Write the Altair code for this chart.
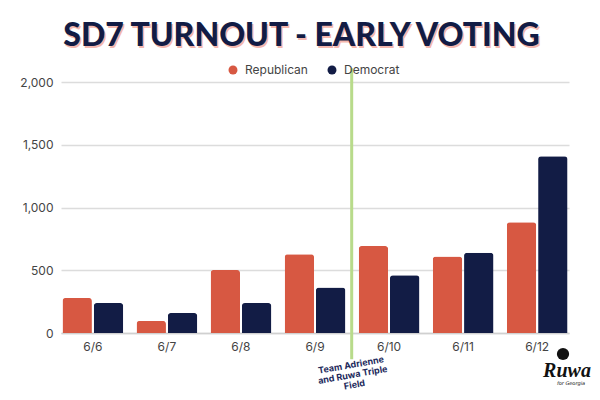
import altair as alt
import pandas as pd

dates = ["6/6", "6/7", "6/8", "6/9", "6/10", "6/11", "6/12"]
parties = ["Republican", "Democrat"]
republican = [279, 96, 502, 627, 693, 609, 882]
democrat = [239, 159, 239, 362, 460, 640, 1408]
y_ticks = [0, 500, 1000, 1500, 2000]
title_text = "SD7 TURNOUT - EARLY VOTING"
note_lines = ["Team Adrienne", "and Ruwa Triple", "Field"]
note_date = "6/10"

rows = []
for d, r, m in zip(dates, republican, democrat):
    rows.append({"date": d, "party": "Republican", "value": r})
    rows.append({"date": d, "party": "Democrat", "value": m})
df = pd.DataFrame(rows)

FONT = "Inter"
NAVY = "#121c45"
RED = "#d75842"

xenc = alt.X(
    "date:N", sort=dates,
    scale=alt.Scale(paddingInner=0.18, paddingOuter=0.02),
    axis=alt.Axis(title=None, labelAngle=0, labelFont=FONT, labelFontSize=12,
                  labelColor="#444", labelPadding=8, ticks=False,
                  domainColor="#d0d0d0", domainWidth=1.5),
)
yscale = alt.Scale(domain=[0, 2000], nice=False)

bars = alt.Chart(df).mark_bar(cornerRadiusTopLeft=3, cornerRadiusTopRight=3).encode(
    x=xenc,
    xOffset=alt.XOffset("party:N", sort=parties, scale=alt.Scale(paddingInner=0.06)),
    y=alt.Y("value:Q", scale=yscale,
            axis=alt.Axis(title=None, values=y_ticks, format=",.0f", labelPadding=8,
                          ticks=False, domain=False, gridColor="#dcdcdc", gridWidth=1.5,
                          labelFont=FONT, labelFontSize=12, labelColor="#444")),
    color=alt.Color("party:N", sort=parties,
                    scale=alt.Scale(domain=parties, range=[RED, NAVY]),
                    legend=alt.Legend(orient="none", legendX=166, legendY=-18,
                                      direction="horizontal", title=None,
                                      symbolType="circle", symbolSize=80,
                                      labelFont=FONT, labelFontSize=12, labelColor="#444",
                                      columnPadding=18, labelOffset=6, padding=0)),
)

rule = alt.Chart(pd.DataFrame({"date": [note_date]})).mark_rule(
    color="#b8db8b", strokeWidth=3, xOffset=-7
).encode(
    x=alt.X("date:N", sort=dates, bandPosition=0),
    y=alt.datum(2110),
    y2=alt.datum(-210),
)

one = pd.DataFrame({"a": [0]})
note = alt.Chart(one).mark_text(
    text=note_lines, angle=350, fontSize=9, fontWeight="bold", font=FONT,
    color="#1d2a5c", lineHeight=10, align="center", baseline="middle"
).encode(x=alt.value(290), y=alt.value(283))

title_shadow = alt.Chart(one).mark_text(
    text=title_text, font="Lato", fontWeight=900, fontSize=32, color="#f4b7ae",
    align="center", baseline="alphabetic"
).encode(x=alt.value(242), y=alt.value(-34))
title_main = alt.Chart(one).mark_text(
    text=title_text, font="Lato", fontWeight=900, fontSize=32, color=NAVY,
    align="center", baseline="alphabetic"
).encode(x=alt.value(240.5), y=alt.value(-36))

peach = alt.Chart(one).mark_point(filled=True, shape="circle", size=150, color="#111", opacity=1).encode(
    x=alt.value(502), y=alt.value(272))
logo = alt.Chart(one).mark_text(
    text="Ruwa", font="Liberation Serif", fontWeight="bold", fontStyle="italic",
    fontSize=20, color="#111", align="center", baseline="middle"
).encode(x=alt.value(506), y=alt.value(289))
logo_sub = alt.Chart(one).mark_text(
    text="for Georgia", font="DejaVu Sans", fontSize=5, fontStyle="italic",
    color="#111", align="center", baseline="middle"
).encode(x=alt.value(510), y=alt.value(301))

chart = alt.layer(bars, rule, note, title_shadow, title_main, peach, logo, logo_sub).properties(
    width=508, height=251,
    autosize="none",
    padding={"left": 53, "top": 74, "right": 23, "bottom": 59},
    background="white",
).configure_view(stroke=None)

chart.save("out.html", embed_options={"renderer": "svg", "actions": False})
